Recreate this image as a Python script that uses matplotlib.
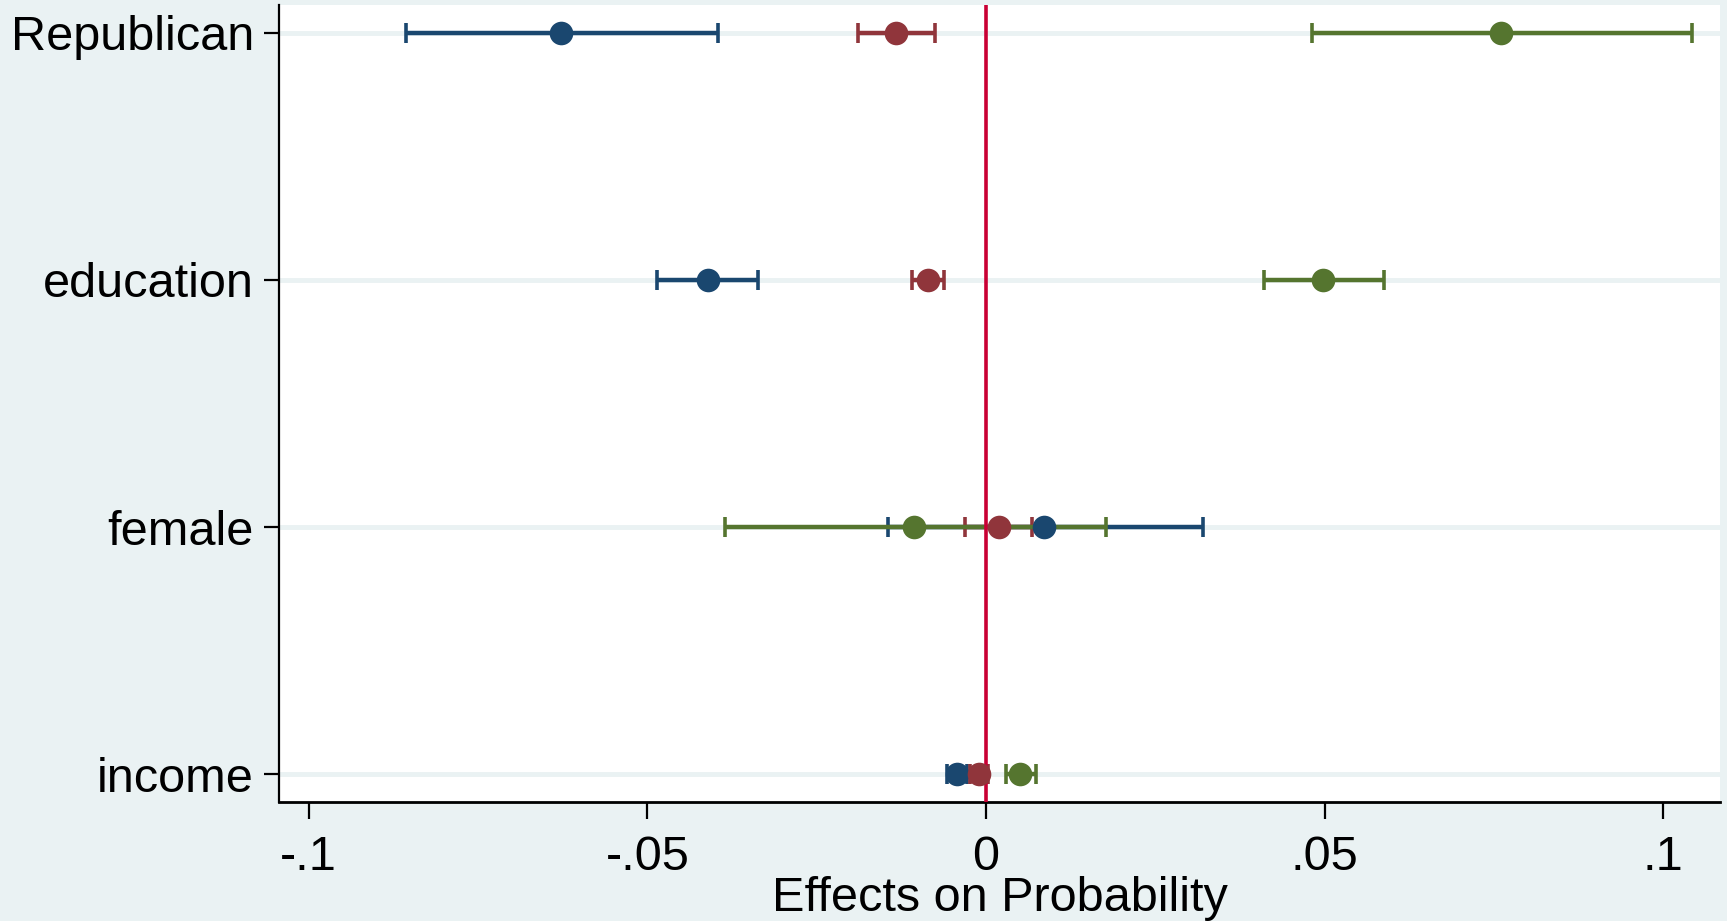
import numpy as np
import matplotlib
matplotlib.use("Agg")
from matplotlib import pyplot as plt

# coefficient plot, three outcomes per covariate
variables = ["income", "female", "education", "Republican"]

blue_est = [-0.0043, 0.0085, -0.0410, -0.0628]
blue_lo = [-0.0058, -0.0145, -0.0486, -0.0857]
blue_hi = [-0.0028, 0.0320, -0.0337, -0.0395]

red_est = [-0.0010, 0.0019, -0.0086, -0.0133]
red_lo = [-0.0023, -0.0031, -0.0109, -0.0189]
red_hi = [0.0003, 0.0068, -0.0062, -0.0075]

green_est = [0.0051, -0.0106, 0.0498, 0.0761]
green_lo = [0.0030, -0.0385, 0.0411, 0.0481]
green_hi = [0.0074, 0.0177, 0.0587, 0.1042]

xticks = [-0.1, -0.05, 0, 0.05, 0.1]
xticklabels = ["-.1", "-.05", "0", ".05", ".1"]

bg = "#EAF2F3"
series = [
    (blue_est, blue_lo, blue_hi, "#1A476F"),
    (red_est, red_lo, red_hi, "#90353B"),
    (green_est, green_lo, green_hi, "#55752F"),
]

plt.rcParams["font.family"] = ["Liberation Sans", "DejaVu Sans"]

fig = plt.figure(figsize=(17.27, 9.21), dpi=100, facecolor=bg)
ax = fig.add_axes([0.1615, 0.1292, 0.8345, 0.8654])
ax.set_facecolor("white")

ypos = np.arange(1, len(variables) + 1)
for y in ypos:
    ax.axhline(y, color=bg, lw=3.5, zorder=0)

for est, lo, hi, col in series:
    est = np.array(est)
    err = [est - np.array(lo), np.array(hi) - est]
    ax.errorbar(est, ypos, xerr=err, fmt="none", ecolor=col, elinewidth=3.2,
                capsize=7, capthick=2.6, zorder=2)

ax.axvline(0, color="#C90034", lw=2.6, zorder=3)

for est, lo, hi, col in series:
    ax.plot(est, ypos, "o", color=col, ms=17, mew=0, zorder=4)

ax.set_xlim(-0.1044, 0.1084)
ax.set_ylim(0.887, 4.113)
ax.set_yticks(ypos)
ax.set_yticklabels(variables, fontsize=35)
ax.set_xticks(xticks)
ax.set_xticklabels(xticklabels, fontsize=35)
ax.tick_params(axis="y", length=11, width=1.6, pad=7)
ax.tick_params(axis="x", length=12, width=1.6, pad=12)
ax.set_xlabel("Effects on Probability", fontsize=35, labelpad=-3)

for s in ["top", "right"]:
    ax.spines[s].set_visible(False)
ax.spines["left"].set_linewidth(1.6)
ax.spines["bottom"].set_linewidth(2)

fig.savefig("out.png", dpi=100, facecolor=bg)
